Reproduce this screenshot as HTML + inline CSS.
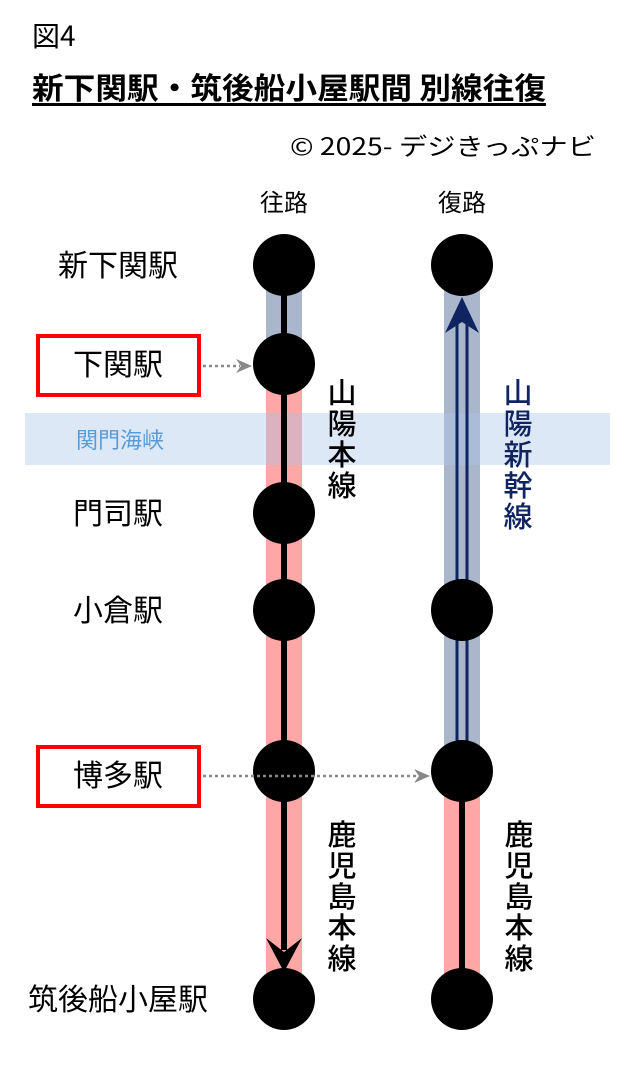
<!DOCTYPE html>
<html><head><meta charset="utf-8"><style>
body{margin:0;width:640px;height:1067px;background:#fff;overflow:hidden;font-family:"Noto Sans CJK JP",sans-serif;}
</style></head><body>
<svg width="640" height="1067" viewBox="0 0 640 1067" xmlns="http://www.w3.org/2000/svg" style="font-family:'Noto Sans CJK JP',sans-serif">
<text x="32" y="46" font-size="28">図4</text>
<text x="32" y="99" font-size="30" font-weight="bold" textLength="514" lengthAdjust="spacingAndGlyphs">新下関駅・筑後船小屋駅間 別線往復</text>
<rect x="32" y="103" width="514" height="3" fill="#000"/>
<text x="596" y="155" font-size="24" text-anchor="end" textLength="306" lengthAdjust="spacingAndGlyphs">© 2025- デジきっぷナビ</text>
<text x="284" y="211" font-size="24" text-anchor="middle">往路</text>
<text x="462" y="211" font-size="24" text-anchor="middle">復路</text>
<rect x="266" y="265" width="36" height="99" fill="#aab6cc"/>
<rect x="266" y="364" width="36" height="621" fill="#ffa6a6"/>
<rect x="444" y="265" width="36" height="506" fill="#aab6cc"/>
<rect x="444" y="771" width="36" height="214" fill="#ffa6a6"/>
<rect x="25" y="413" width="585" height="52" fill="#a9c6e8" opacity="0.4"/>
<text x="76" y="448" font-size="22" fill="#5b9bd5">関門海峡</text>
<line x1="284" y1="265" x2="284" y2="950" stroke="#000" stroke-width="6"/>
<polygon points="266,938 284,972 302,938 284,952" fill="#000"/>
<line x1="457" y1="318" x2="457" y2="771" stroke="#0f2460" stroke-width="3"/>
<line x1="467" y1="318" x2="467" y2="771" stroke="#0f2460" stroke-width="3"/>
<polygon points="462,297 445,333 462,322 479,333" fill="#0f2460"/>
<line x1="462" y1="771" x2="462" y2="999" stroke="#000" stroke-width="6"/>
<g fill="#000">
<circle cx="284" cy="265" r="31"/><circle cx="284" cy="364" r="31"/><circle cx="284" cy="513" r="31"/>
<circle cx="284" cy="610" r="31"/><circle cx="284" cy="771" r="31"/><circle cx="284" cy="999" r="31"/>
<circle cx="462" cy="265" r="31"/><circle cx="462" cy="610" r="31"/><circle cx="462" cy="771" r="31"/><circle cx="462" cy="999" r="31"/>
</g>
<line x1="203" y1="366" x2="240" y2="366" stroke="#888" stroke-width="2.5" stroke-dasharray="3,3"/>
<polygon points="236,359 252,366 236,373 241,366" fill="#888"/>
<line x1="203" y1="776" x2="418" y2="776" stroke="#888" stroke-width="2.5" stroke-dasharray="3,3"/>
<polygon points="414,769 430,776 414,783 419,776" fill="#888"/>
<rect x="38" y="336" width="161" height="59" fill="none" stroke="#f00" stroke-width="4"/>
<rect x="38" y="747" width="161" height="59" fill="none" stroke="#f00" stroke-width="4"/>
<g font-size="30">
<text x="118" y="276" text-anchor="middle">新下関駅</text>
<text x="118" y="375" text-anchor="middle">下関駅</text>
<text x="118" y="524" text-anchor="middle">門司駅</text>
<text x="118" y="621" text-anchor="middle">小倉駅</text>
<text x="118" y="786" text-anchor="middle">博多駅</text>
<text x="118" y="1010" text-anchor="middle">筑後船小屋駅</text>
</g>
<g font-size="29" text-anchor="middle" font-weight="500">
<text x="342" y="403">山</text><text x="342" y="434">陽</text><text x="342" y="465">本</text><text x="342" y="496">線</text>
<g fill="#0f2460"><text x="518" y="403">山</text><text x="518" y="434">陽</text><text x="518" y="465">新</text><text x="518" y="496">幹</text><text x="518" y="527">線</text></g>
<text x="342" y="845">鹿</text><text x="342" y="876">児</text><text x="342" y="907">島</text><text x="342" y="938">本</text><text x="342" y="969">線</text>
<text x="519" y="845">鹿</text><text x="519" y="876">児</text><text x="519" y="907">島</text><text x="519" y="938">本</text><text x="519" y="969">線</text>
</g>
</svg>
</body></html>
